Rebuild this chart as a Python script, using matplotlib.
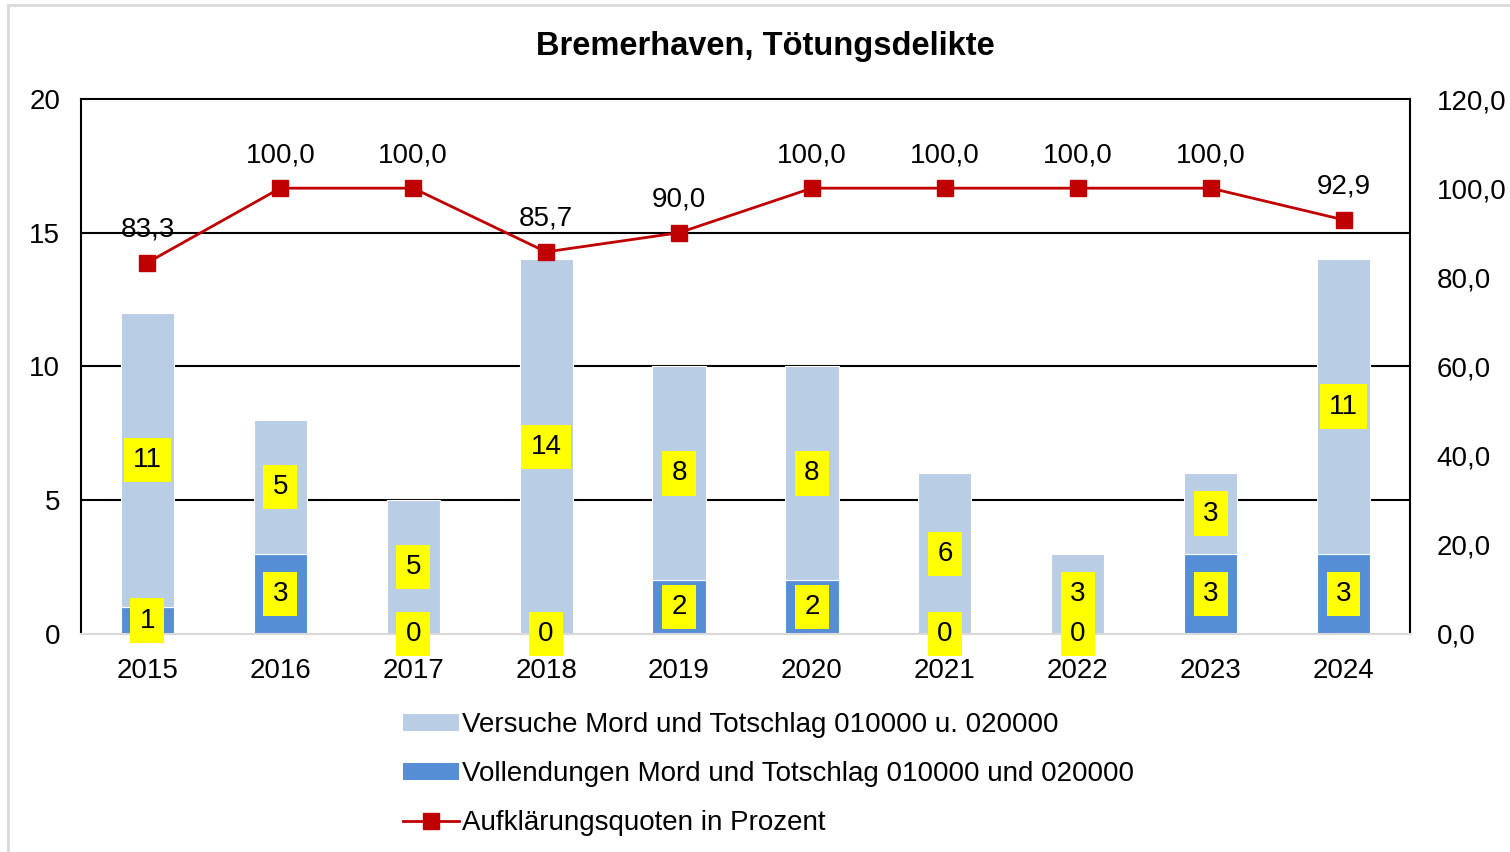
import numpy as np
import matplotlib.pyplot as plt
from matplotlib.patches import Rectangle
from matplotlib.lines import Line2D

plt.rcParams['font.family'] = ['Liberation Sans', 'DejaVu Sans']

# data
jahre = ['2015', '2016', '2017', '2018', '2019', '2020', '2021', '2022', '2023', '2024']
vollendungen = [1, 3, 0, 0, 2, 2, 0, 0, 3, 3]
versuche = [11, 5, 5, 14, 8, 8, 6, 3, 3, 11]
quote = [83.3, 100.0, 100.0, 85.7, 90.0, 100.0, 100.0, 100.0, 100.0, 92.9]

c_versuch = '#B9CDE5'
c_voll = '#558ED5'
c_rot = '#C00000'
fs = 20

fig = plt.figure(figsize=(15.1, 8.52), dpi=100)
ax = fig.add_axes([0.0536, 0.2559, 0.8802, 0.6279])
x = np.arange(len(jahre))

ax.bar(x, vollendungen, width=0.4, color=c_voll, edgecolor='white', linewidth=0.8, zorder=2)
ax.bar(x, versuche, width=0.4, bottom=vollendungen, color=c_versuch, edgecolor='white', linewidth=0.8, zorder=2)

box = dict(boxstyle='square,pad=0.33', facecolor='#FFFF00', edgecolor='none')
for i in range(len(x)):
    ax.text(x[i], vollendungen[i] / 2, str(vollendungen[i]), ha='center', va='center',
            fontsize=fs, bbox=box, zorder=5)
    ax.text(x[i], vollendungen[i] + versuche[i] / 2, str(versuche[i]), ha='center', va='center',
            fontsize=fs, bbox=box, zorder=5)

ax.set_xlim(-0.5, 9.5)
ax.set_ylim(0, 20)
ax.set_yticks([0, 5, 10, 15, 20])
ax.set_xticks(x)
ax.set_xticklabels(jahre)
ax.tick_params(axis='both', length=0, labelsize=fs)
ax.tick_params(axis='x', pad=17)
ax.tick_params(axis='y', pad=15)
for yv in [5, 10, 15]:
    ax.axhline(yv, color='black', linewidth=1.5, zorder=1)
for s in ['left', 'top', 'right']:
    ax.spines[s].set_linewidth(1.5)
ax.spines['bottom'].set_color('#D9D9D9')
ax.spines['bottom'].set_linewidth(1.5)

ax2 = ax.twinx()
ax2.set_ylim(0, 120)
ax2.set_yticks(np.arange(0, 121, 20))
ax2.set_yticklabels([f'{v:.1f}'.replace('.', ',') for v in np.arange(0, 121, 20)])
ax2.tick_params(axis='y', length=0, labelsize=fs, pad=19)
for s in ax2.spines.values():
    s.set_visible(False)
ax2.plot(x, quote, color=c_rot, linewidth=2, marker='s', markersize=11, zorder=4)
for i in range(len(x)):
    ax2.annotate(f'{quote[i]:.1f}'.replace('.', ','), (x[i], quote[i]), xytext=(0, 33),
                 textcoords='offset pixels', ha='center', va='center', fontsize=fs)

fig.text(0.507, 0.945, 'Bremerhaven, Tötungsdelikte', ha='center', va='center',
         fontsize=23.5, fontweight='bold')

handles = [Rectangle((0, 0), 1, 1, facecolor=c_versuch, edgecolor='none'),
           Rectangle((0, 0), 1, 1, facecolor=c_voll, edgecolor='none'),
           Line2D([0], [0], color=c_rot, linewidth=2, marker='s', markersize=11)]
labels = ['Versuche Mord und Totschlag 010000 u. 020000',
          'Vollendungen Mord und Totschlag 010000 und 020000',
          'Aufklärungsquoten in Prozent']
fig.legend(handles, labels, loc='upper left', bbox_to_anchor=(0.267, 0.164), frameon=False,
           fontsize=fs, handlelength=2.0, handleheight=0.55, handletextpad=0.1, labelspacing=0.82,
           borderpad=0, borderaxespad=0)

fig.patches.append(Rectangle((0.0055, -0.01), 1.1, 1.004, transform=fig.transFigure,
                             fill=False, edgecolor='#D9D9D9', linewidth=2))

fig.savefig('out.png', dpi=100)
